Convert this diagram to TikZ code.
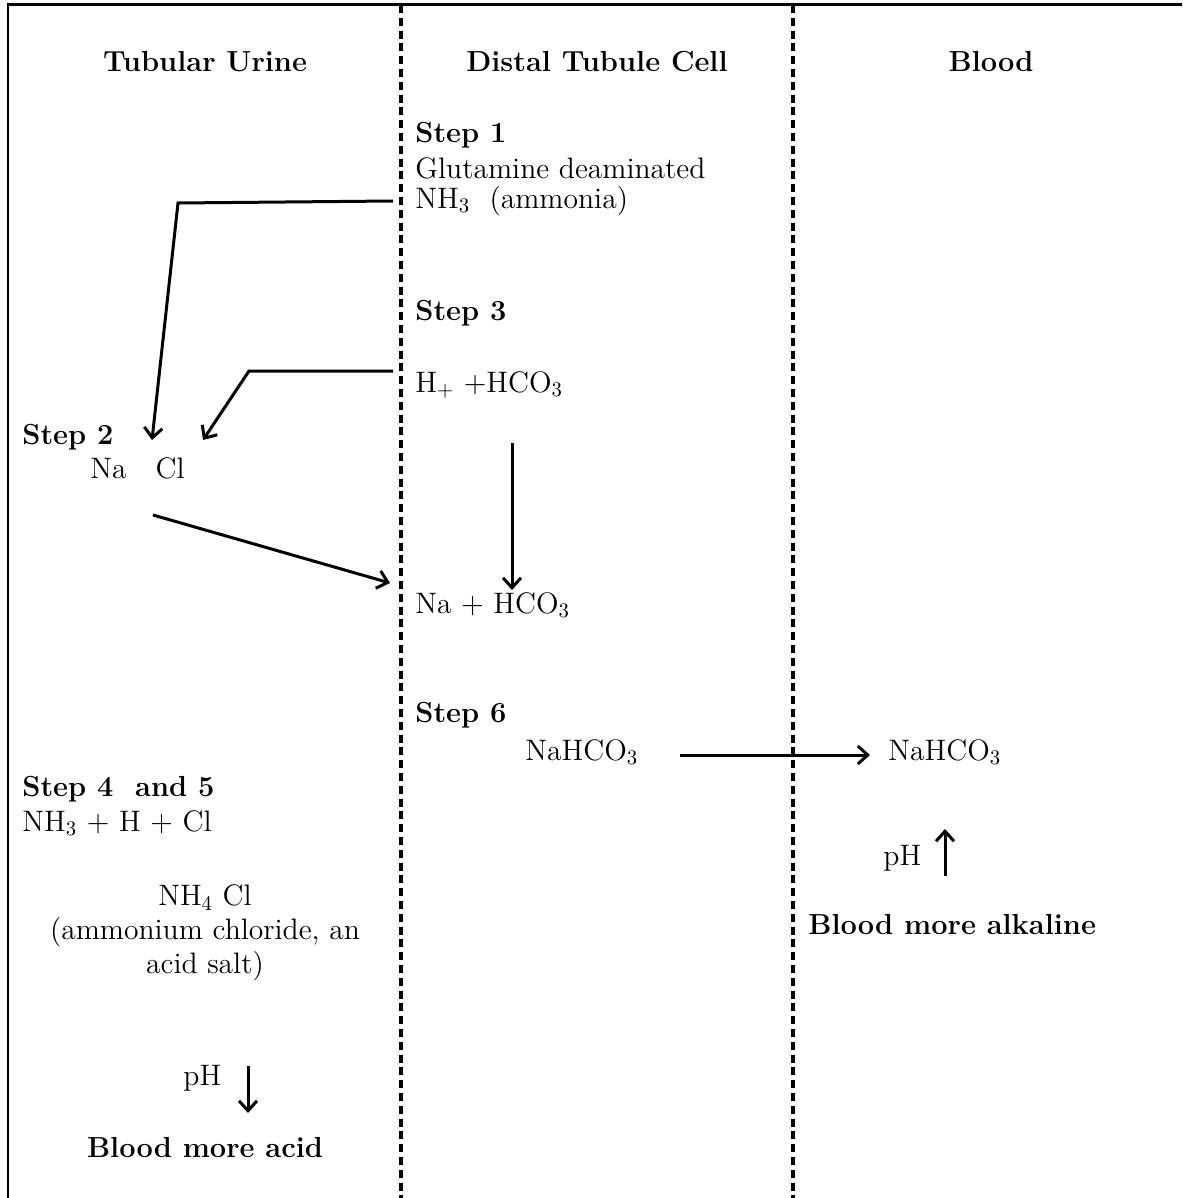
\documentclass[tikz,border=0pt]{standalone}
\usetikzlibrary{arrows.meta}

\tikzset{
  lbl/.style={inner sep=0pt, font=\fontsize{14.8}{17}\selectfont},
  lblL/.style={lbl, anchor=west},
  bold/.style={lbl, font=\fontsize{14.5}{17}\selectfont\bfseries},
  boldL/.style={bold, anchor=west},
  flow/.style={line width=1.5pt, ->, >={Straight Barb[length=5pt,width=9pt]}},
  wall/.style={line width=1.6pt, dash pattern=on 4pt off 2.4pt},
}

\begin{document}
\begin{tikzpicture}[x=0.5pt, y=-0.5pt]
\useasboundingbox (0,0) rectangle (1182,1198);

% frame and column walls
\draw[line width=1.5pt] (7,5) -- (1182,5);
\draw[line width=1.3pt] (8,5) -- (8,1198);
\draw[wall] (401,5) -- (401,1198);
\draw[wall] (793,5) -- (793,1198);

% headers
\node[bold] (hurine) at (205,62) {Tubular Urine};
\node[bold] (hcell) at (597,62) {Distal Tubule Cell};
\node[bold] (hblood) at (991,62) {Blood};

% distal tubule cell
\node[boldL] (step1) at (415,135) {Step 1};
\node[lblL] (glut) at (415,168) {Glutamine deaminated};
\node[lblL] (nh3) at (415,201) {NH\textsubscript{3}\ \ (ammonia)};
\node[boldL] (step3) at (415,313) {Step 3};
\node[lblL] (hco) at (415,385) {H\textsubscript{+} +HCO\textsubscript{3}};
\node[lblL] (nahco) at (415,605) {Na + HCO\textsubscript{3}};
\node[boldL] (step6) at (415,715) {Step 6};
\node[lblL] (nahcoA) at (525,752) {NaHCO\textsubscript{3}};

% tubular urine
\node[boldL] (step2) at (22,437) {Step 2};
\node[lblL] (nacl) at (90,468) {Na\ \ \ Cl};
\node[boldL] (step45) at (22,789) {Step 4\ \ and 5};
\node[lblL] (mix) at (22,823) {NH\textsubscript{3} + H + Cl};
\node[lbl, align=center] (nh4cl) at (205,933)
  {NH\textsubscript{4} Cl\\(ammonium chloride, an\\acid salt)};
\node[lblL] (phdown) at (183,1078) {pH};
\node[bold] (acid) at (205,1148) {Blood more acid};

% blood
\node[lblL] (nahcoB) at (888,752) {NaHCO\textsubscript{3}};
\node[lblL] (phup) at (883,858) {pH};
\node[boldL] (alkaline) at (808,925) {Blood more alkaline};

% connectors
\coordinate (k1) at (178,203);
\coordinate (t1) at (152,440);
\coordinate (k2) at (249,371);
\coordinate (t2) at (203,440);
\coordinate (s3) at (153,515);
\coordinate (e3) at (390,583);
\coordinate (s4) at (512,443);
\coordinate (e4) at (512,590);
\coordinate (s5) at (680,755);
\coordinate (e5) at (870,755);
\coordinate (u1) at (945,876);
\coordinate (u2) at (945,829);
\coordinate (d1) at (248,1066);
\coordinate (d2) at (248,1113);

\draw[flow] ([xshift=-11pt]nh3.west) -- (k1) -- (t1);
\draw[flow] ([xshift=-11pt,yshift=7pt]hco.west) -- (k2) -- (t2);
\draw[flow] (s3) -- (e3);
\draw[flow] (s4) -- (e4);
\draw[flow] (s5) -- (e5);
\draw[flow] (u1) -- (u2);
\draw[flow] (d1) -- (d2);
\end{tikzpicture}
\end{document}
